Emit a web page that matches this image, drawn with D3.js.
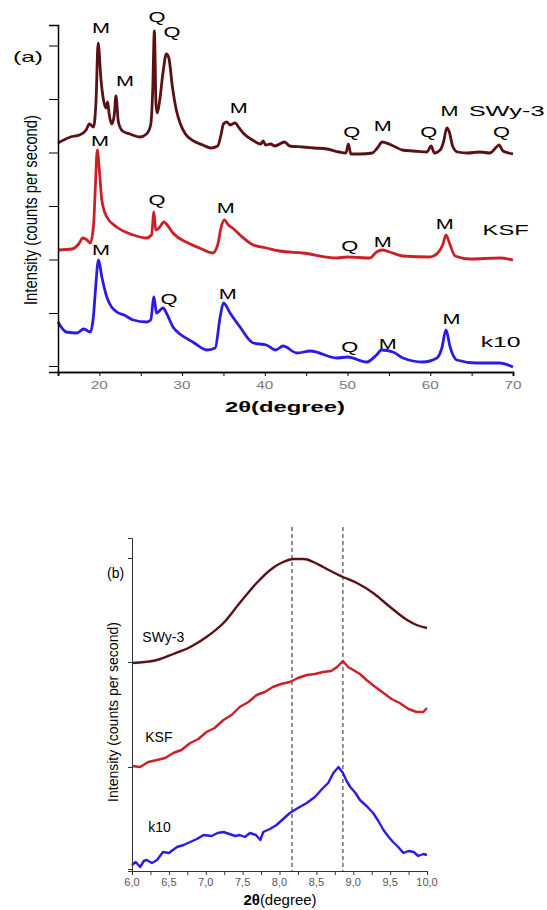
<!DOCTYPE html>
<html><head><meta charset="utf-8">
<script src="https://cdn.jsdelivr.net/npm/d3@7"></script>
<style>
body{margin:0;background:#fff;}
svg{display:block;}
text{font-family:"Liberation Sans",Arial,sans-serif;}
</style></head>
<body><svg id="c" width="547" height="910"></svg>
<script>
// ---------- Panel (a) data: [2θ (deg), intensity (a.u.)] ----------
const swy3A = [[15,2290],[16.5,2350],[17.6,2370],[18.4,2420],[18.8,2480],[19.3,2450],[19.6,2720],[19.85,3290],[20.2,2920],[20.5,2720],[20.8,2640],[21.0,2700],[21.2,2570],[21.5,2480],[21.8,2570],[22.0,2760],[22.3,2500],[22.8,2410],[23.7,2380],[24.9,2350],[25.7,2380],[26.2,2470],[26.45,2820],[26.65,3410],[26.85,2670],[27.0,2590],[27.3,2720],[27.7,3000],[28.1,3180],[28.4,3140],[28.8,2870],[29.3,2620],[29.8,2480],[30.4,2380],[31.4,2310],[32.5,2270],[33.5,2240],[34.3,2260],[34.7,2370],[35.0,2480],[35.4,2500],[35.8,2470],[36.4,2490],[36.9,2440],[37.5,2380],[38.5,2320],[39.5,2280],[39.8,2310],[40.1,2270],[40.7,2280],[41.2,2260],[42.4,2300],[43.0,2260],[44.6,2250],[46.0,2240],[47.5,2230],[49.0,2200],[49.8,2190],[50.1,2280],[50.4,2180],[51.5,2180],[53.0,2190],[53.6,2240],[54.2,2300],[55.0,2280],[55.8,2250],[56.6,2220],[58.0,2210],[59.6,2200],[60.1,2260],[60.5,2190],[61.2,2220],[61.6,2300],[62.0,2440],[62.3,2400],[62.7,2260],[63.3,2200],[64.5,2190],[66.0,2200],[67.2,2190],[68.0,2250],[68.3,2270],[68.8,2210],[69.5,2190],[70.0,2180]];
const ksfA = [[15,1220],[16.7,1230],[17.5,1280],[18.0,1340],[18.5,1320],[18.9,1290],[19.3,1470],[19.5,1820],[19.75,2220],[20.0,2020],[20.3,1720],[20.9,1550],[22.1,1450],[24.1,1370],[25.7,1340],[26.3,1370],[26.6,1600],[26.8,1420],[27.2,1440],[27.8,1500],[28.2,1470],[28.9,1390],[30.5,1300],[32.1,1240],[33.7,1190],[34.3,1270],[34.7,1440],[35.1,1520],[35.6,1470],[36.1,1440],[37.0,1370],[38.6,1270],[40.2,1240],[41.8,1210],[44.6,1190],[48.7,1140],[50.0,1150],[52.7,1140],[53.5,1200],[54.2,1220],[55.1,1200],[56.7,1160],[59.9,1150],[60.9,1190],[61.5,1270],[61.9,1370],[62.4,1270],[63.0,1160],[64.8,1130],[68.4,1140],[70.0,1120]];
const k10A = [[15,500],[16.0,400],[17.3,390],[18.1,430],[18.9,400],[19.3,570],[19.5,790],[19.9,1120],[20.3,950],[20.9,750],[22.1,600],[23.0,570],[24.1,520],[25.7,500],[26.2,520],[26.6,750],[26.9,590],[27.7,640],[28.1,590],[28.9,450],[29.9,370],[31.3,300],[33.0,220],[34.0,240],[34.6,550],[35.0,690],[35.8,590],[37.0,450],[38.6,290],[40.2,270],[41.3,220],[42.2,260],[43.9,190],[45.5,210],[48.7,140],[50.0,150],[52.3,100],[53.5,170],[54.1,220],[55.5,200],[56.7,140],[59.1,100],[60.8,140],[61.4,240],[61.9,420],[62.4,250],[63.2,120],[65.6,90],[68.4,90],[70.0,50]];
const xTicksA = [20,30,40,50,60,70];
const xMinorA = [15,25,35,45,55,65];
const yTicksA = [60,590,1125,1660,2195,2730,3265];
// peak labels: [text, 2θ, intensity]
const labelsA = [
 ["M",20.19,3390],["Q",26.96,3500],["Q",28.77,3350],["M",23.09,2860],["M",36.86,2590],["Q",50.51,2350],["M",54.25,2410],["Q",59.81,2350],["M",62.34,2560],["Q",68.62,2350],
 ["M",20.07,2260],["Q",26.96,1670],["M",35.29,1590],["Q",50.27,1210],["M",54.25,1250],["M",61.74,1430],
 ["M",20.19,1170],["Q",28.41,680],["M",35.53,730],["Q",50.27,200],["M",54.86,230],["M",62.58,480]];
const seriesNames = ["SWy-3","KSF","k10"];
const seriesLabelPosA = [[64.64,2560],[66.33,1370],[66.09,250]];

// ---------- Panel (b) data ----------
const swy3B = [[6.00,2080],[6.17,2090],[6.34,2110],[6.56,2170],[6.79,2240],[7.01,2340],[7.24,2480],[7.46,2680],[7.69,2880],[7.91,3030],[8.05,3090],[8.19,3120],[8.33,3120],[8.46,3090],[8.59,3040],[8.86,2940],[9.05,2880],[9.27,2780],[9.50,2640],[9.73,2510],[9.86,2460],[10.0,2430]];
const ksfB = [[6.00,1050],[6.11,1040],[6.22,1090],[6.34,1110],[6.45,1130],[6.56,1180],[6.67,1210],[6.79,1280],[6.90,1320],[7.01,1390],[7.12,1430],[7.24,1510],[7.35,1560],[7.46,1640],[7.58,1690],[7.69,1760],[7.80,1790],[7.91,1840],[8.02,1870],[8.14,1890],[8.25,1930],[8.37,1960],[8.48,1970],[8.59,1990],[8.70,2000],[8.78,2040],[8.86,2100],[8.93,2040],[9.00,2010],[9.09,1970],[9.18,1910],[9.30,1840],[9.41,1780],[9.52,1720],[9.63,1680],[9.75,1620],[9.86,1590],[9.95,1590],[10.0,1630]];
const k10B = [[6.00,60],[6.05,90],[6.11,40],[6.16,100],[6.20,110],[6.27,80],[6.34,110],[6.42,190],[6.50,180],[6.61,240],[6.70,260],[6.79,290],[6.88,320],[6.97,360],[7.08,350],[7.16,380],[7.24,390],[7.32,370],[7.40,350],[7.46,360],[7.53,340],[7.60,380],[7.68,360],[7.74,310],[7.78,390],[7.87,420],[7.96,460],[8.05,520],[8.14,580],[8.25,630],[8.37,680],[8.48,740],[8.59,830],[8.66,880],[8.73,980],[8.80,1040],[8.86,980],[8.91,900],[8.96,840],[9.03,780],[9.09,710],[9.18,650],[9.27,580],[9.34,500],[9.41,410],[9.48,340],[9.54,290],[9.61,240],[9.68,180],[9.75,200],[9.82,190],[9.88,150],[9.95,170],[10.0,160]];
const xTicksB = [6.0,6.5,7.0,7.5,8.0,8.5,9.0,9.5,10.0];
const xAllTicksB = d3.range(6,10.001,0.25);
const yTicksB = [20,1040,2090,3130];
const dashX = [8.17,8.86];
const seriesLabelPosB = [[6.14,2290],[6.18,1290],[6.22,390]];

const colors = ["#5a1116","#cc2027","#2b1be6"];

const svg = d3.select("#c");

// ===== Panel (a) =====
const xa = d3.scaleLinear().domain([15,70]).range([58,513]);
const ya = d3.scaleLinear().domain([0,3470]).range([372,25]);
const ga = svg.append("g");
const lineA = d3.line().x(d=>xa(d[0])).y(d=>ya(d[1])).curve(d3.curveMonotoneX);
[swy3A,ksfA,k10A].forEach((s,i)=>{
  ga.append("path").attr("d",lineA(s)).attr("fill","none").attr("stroke",colors[i])
    .attr("stroke-width",2.8).attr("stroke-linejoin","round");
});
// axes
const axA = ga.append("g").attr("transform","translate(0,372)")
  .call(d3.axisBottom(xa).tickValues(xTicksA).tickSize(4).tickFormat(""));
axA.append("g").call(d3.axisBottom(xa).tickValues(xMinorA).tickSize(4).tickFormat(""));
axA.selectAll("path.domain").attr("stroke","#000").attr("stroke-width",1.5);
axA.selectAll("line").attr("stroke","#000");
const ayA = ga.append("g").attr("transform","translate(58,0)")
  .call(d3.axisLeft(ya).tickValues(yTicksA).tickSize(9).tickFormat(""));
ayA.select("path.domain").attr("stroke","#000").attr("stroke-width",1.5);
ayA.selectAll("line").attr("stroke","#000");
// tick labels
xTicksA.forEach(v=>{
  ga.append("text").attr("x",xa(v)).attr("y",389).attr("text-anchor","middle")
    .attr("font-size",11).attr("fill","#777").attr("textLength",17).attr("lengthAdjust","spacingAndGlyphs").text(v);
});
ga.append("text").attr("x",285).attr("y",412).attr("text-anchor","middle").attr("font-size",14)
  .attr("font-weight","bold").attr("textLength",120).attr("lengthAdjust","spacingAndGlyphs").text("2θ(degree)");
ga.append("text").attr("transform","translate(37,210) rotate(-90)").attr("text-anchor","middle")
  .attr("font-size",18).attr("font-family","'Liberation Sans Narrow','Liberation Sans',Arial,sans-serif")
  .attr("textLength",190).attr("lengthAdjust","spacingAndGlyphs").text("Intensity (counts per second)");
ga.append("text").attr("x",13).attr("y",62).attr("font-size",15).attr("textLength",30)
  .attr("lengthAdjust","spacingAndGlyphs").text("(a)");
labelsA.forEach(l=>{
  ga.append("text").attr("x",xa(l[1])).attr("y",ya(l[2])).attr("text-anchor","middle")
    .attr("font-size",14).attr("textLength",l[0]==="M"?18:17).attr("lengthAdjust","spacingAndGlyphs").text(l[0]);
});
const lenA = [76,46,40];
seriesNames.forEach((n,i)=>{
  ga.append("text").attr("x",xa(seriesLabelPosA[i][0])).attr("y",ya(seriesLabelPosA[i][1]))
    .attr("font-size",14).attr("textLength",lenA[i]).attr("lengthAdjust","spacingAndGlyphs").text(n);
});

// ===== Panel (b) =====
const xb = d3.scaleLinear().domain([6,10]).range([132,427]);
const yb = d3.scaleLinear().domain([0,3330]).range([871,538]);
const gb = svg.append("g");
const lineB = d3.line().x(d=>xb(d[0])).y(d=>yb(d[1]));
dashX.forEach(v=>{
  gb.append("line").attr("x1",xb(v)).attr("x2",xb(v)).attr("y1",yb(3440)).attr("y2",yb(0))
    .attr("stroke","#222").attr("stroke-width",1).attr("stroke-dasharray","4,3");
});
[swy3B,ksfB,k10B].forEach((s,i)=>{
  gb.append("path").attr("d",lineB.curve(i===0?d3.curveMonotoneX:d3.curveLinear)(s)).attr("fill","none").attr("stroke",colors[i])
    .attr("stroke-width",2.4).attr("stroke-linejoin","round");
});
const axB = gb.append("g").attr("transform","translate(0,871)")
  .call(d3.axisBottom(xb).tickValues(xAllTicksB).tickSize(4).tickFormat(""));
axB.select("path.domain").attr("stroke","#333");
axB.selectAll("line").attr("stroke","#333");
const ayB = gb.append("g").attr("transform","translate(132,0)")
  .call(d3.axisLeft(yb).tickValues(yTicksB).tickSize(4).tickFormat(""));
ayB.select("path.domain").attr("stroke","#333");
ayB.selectAll("line").attr("stroke","#333");
xTicksB.forEach(v=>{
  gb.append("text").attr("x",xb(v)).attr("y",886).attr("text-anchor","middle")
    .attr("font-size",11).attr("fill","#555").text(v.toFixed(1).replace(".",","));
});
const tb = gb.append("text").attr("x",280).attr("y",905).attr("text-anchor","middle").attr("font-size",15);
tb.append("tspan").attr("font-weight","bold").text("2θ");
tb.append("tspan").text("(degree)");
gb.append("text").attr("transform","translate(118,712) rotate(-90)").attr("text-anchor","middle")
  .attr("font-size",14).text("Intensity (counts per second)");
gb.append("text").attr("x",107).attr("y",578).attr("font-size",14).text("(b)");
seriesNames.forEach((n,i)=>{
  gb.append("text").attr("x",xb(seriesLabelPosB[i][0])).attr("y",yb(seriesLabelPosB[i][1]))
    .attr("font-size",14).text(n);
});
</script></body></html>
